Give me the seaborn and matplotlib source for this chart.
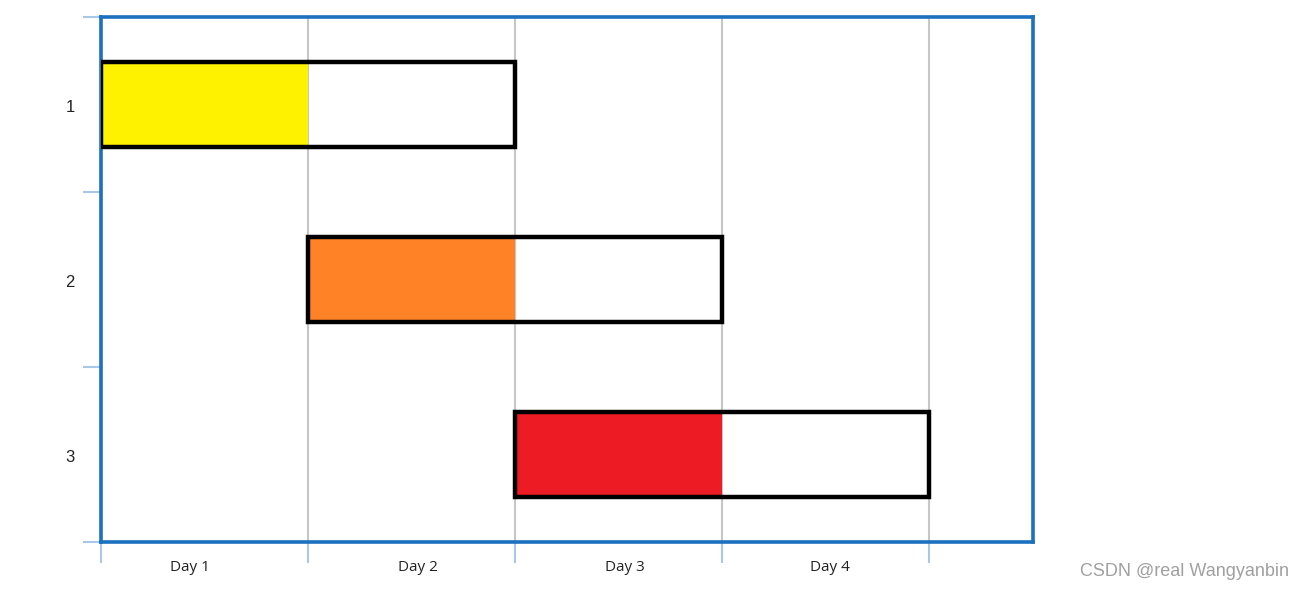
import matplotlib
matplotlib.use("Agg")
import matplotlib.pyplot as plt
import seaborn as sns
import pandas as pd

# Data
tasks = ["1", "2", "3"]
start_day = [0, 1, 2]
duration = [2, 2, 2]
progress = [1, 1, 1]
fill_colors = ["#FFF200", "#FF8226", "#ED1C24"]
day_labels = ["Day 1", "Day 2", "Day 3", "Day 4"]

df = pd.DataFrame({"task": tasks, "start": start_day, "duration": duration, "progress": progress})

sns.set_theme(style="white")
plt.rcParams["font.family"] = ["Liberation Sans", "DejaVu Sans"]

fig = plt.figure(figsize=(13.04, 5.91), dpi=100)
ax = fig.add_axes([101 / 1304, 49 / 591, 932 / 1304, 525 / 591])

# gridlines first
for d in range(1, 5):
    ax.axvline(d, color="#c6c6c6", lw=1.5, zorder=0)

# outline bars (seaborn categorical axis: task i at position i)
sns.barplot(data=df, x="duration", y="task", order=tasks, orient="h", left=df["start"].tolist(),
            color="white", fill=False, errorbar=None, width=0.49, linewidth=3.2,
            edgecolor="black", ax=ax, zorder=3)
for p in ax.patches:
    p.set_facecolor("none")

# progress fill on the same categorical positions
ax.barh(range(len(tasks)), df["progress"], left=df["start"], height=0.49,
        color=fill_colors, linewidth=0, zorder=2)

ax.set_xlim(0, 4.5)
ax.set_ylim(2.5, -0.5)
ax.set_xlabel("")
ax.set_ylabel("")

# ticks
tick_blue = "#a9c7e6"
ax.set_xticks([0, 1, 2, 3, 4])
ax.set_xticklabels([])
ax.set_xticks([0.43, 1.53, 2.53, 3.52], minor=True)
ax.set_xticklabels(day_labels, minor=True)
ax.set_yticks([-0.5, 0.5, 1.5, 2.5])
ax.set_yticklabels([])
ax.set_yticks([0.01, 1.01, 2.01], minor=True)
ax.set_yticklabels(tasks, minor=True)

ax.tick_params(axis="x", which="major", length=15, width=1.5, color=tick_blue, direction="out", bottom=True)
ax.tick_params(axis="y", which="major", length=13, width=1.5, color=tick_blue, direction="out", left=True)
ax.tick_params(axis="x", which="minor", length=0, pad=13, labelsize=11, labelcolor="#222222", bottom=True)
ax.tick_params(axis="y", which="minor", length=0, pad=19, labelsize=12, labelcolor="#222222", left=True)
for lab in ax.get_xticklabels(minor=True):
    lab.set_fontfamily(["Open Sans", "DejaVu Sans"])

for s in ax.spines.values():
    s.set_visible(True)
    s.set_color("#1c70c0")
    s.set_linewidth(2.6)

fig.text(0.9885, 0.033, "CSDN @real Wangyanbin", ha="right", va="center", fontsize=13, color="#a0a0a0")

fig.savefig("out.png", dpi=100)
